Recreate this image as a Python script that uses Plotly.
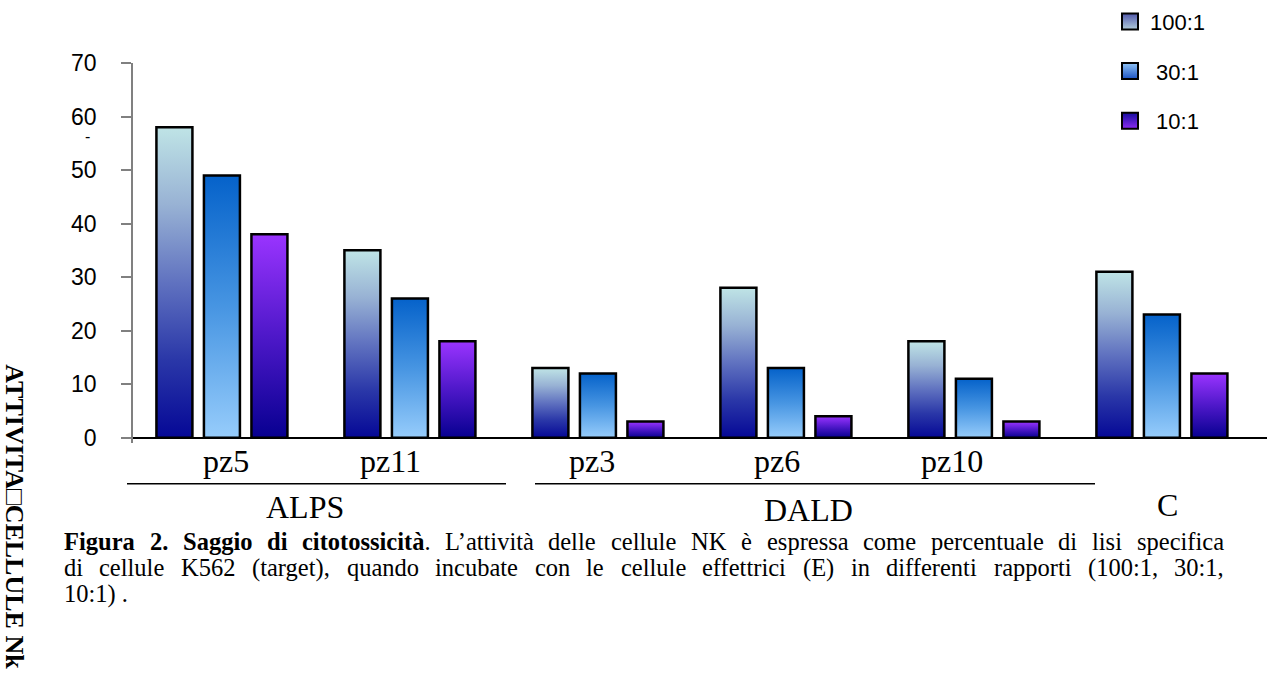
import plotly.graph_objects as go

categories = ["pz5", "pz11", "pz3", "pz6", "pz10", "C"]
series_names = ["100:1", "30:1", "10:1"]
legend_labels = ["100:1", " 30:1", " 10:1"]
values_100 = [58, 35, 13, 28, 18, 31]
values_30 = [49, 26, 12, 13, 11, 23]
values_10 = [38, 18, 3, 4, 3, 12]
y_ticks = [0, 10, 20, 30, 40, 50, 60, 70]
groups = ["ALPS", "DALD", "C"]

W, H = 1267, 691
PL, PR = 133, 1267          # plot area left/right px
PT, PB = 63.3, 443.3        # plot area top/bottom px
YMIN, YMAX = -1, 70
XMIN, XMAX = -0.473, 5.559

def px(xp):
    return (xp - PL) / (PR - PL)

def py(yp):
    return (PB - yp) / (PB - PT)

scales = [
    [[0, "#050896"], [0.25, "#2A37A8"], [0.5, "#6072C0"], [0.75, "#98B2D4"], [1, "#BFE4E6"]],
    [[0, "#96CCFB"], [0.5, "#4795E2"], [1, "#0562CA"]],
    [[0, "#070090"], [0.5, "#4E18C9"], [1, "#9A34FF"]],
]
legend_top = ["#5058AA", "#90C4F6", "#140C9E"]
legend_bottom = ["#AFCAD8", "#1B52C2", "#8C2CF2"]
all_values = [values_100, values_30, values_10]
pitch = 0.2527
bw = 0.1915

fig = go.Figure()
for s, vals in enumerate(all_values):
    off = (s - 1) * pitch
    for i, v in enumerate(vals):
        x0 = i + off - bw / 2
        x1 = i + off + bw / 2
        fig.add_trace(go.Scatter(
            x=[x0, x1, x1, x0, x0], y=[0, 0, v, v, 0],
            mode="lines", fill="toself",
            fillgradient=dict(type="vertical", colorscale=scales[s]),
            line=dict(color="black", width=2.5),
            name=series_names[s], legendgroup=series_names[s],
            showlegend=False, hoverinfo="skip",
        ))
for s in range(3):
    fig.add_trace(go.Scatter(
        x=[None], y=[None], mode="markers", name=legend_labels[s],
        legendgroup=series_names[s], showlegend=True,
        marker=dict(symbol="square", size=20, color=legend_top[s],
                    gradient=dict(type="vertical", color=legend_bottom[s]),
                    line=dict(color="black", width=2)),
    ))

# ---- text metrics (Times New Roman / Liberation Serif, per 1000 em) ----
REG = {" ": 250, "(": 333, ")": 333, ",": 250, ".": 250, ":": 278, "’": 333,
       "A": 722, "C": 667, "E": 611, "K": 722, "N": 722,
       "a": 444, "b": 500, "c": 444, "d": 500, "e": 444, "f": 333, "g": 500, "h": 500,
       "i": 278, "l": 278, "m": 778, "n": 500, "o": 500, "p": 500, "q": 500, "r": 333,
       "s": 389, "t": 278, "u": 500, "v": 500, "à": 444, "è": 444}
BOLD = {" ": 250, ".": 250, "2": 500, "F": 611, "S": 556, "a": 500, "c": 444, "d": 556,
        "g": 500, "i": 278, "o": 500, "r": 444, "s": 389, "t": 333, "u": 556, "à": 500}

def tw(text, size, bold=False):
    tab = BOLD if bold else REG
    return sum(tab.get(ch, 500) for ch in text) * size / 1000.0

CAP = 24.5
serif = "Liberation Serif, Times New Roman, serif"
sans = "Liberation Sans, Arial, sans-serif"
ann = []

def justify(words, y_px, left=62, right=1222):
    widths = [tw(t, CAP, b) + tw(t2, CAP, False) for (t, b, t2) in words]
    gap = (right - left - sum(widths)) / (len(words) - 1)
    x = left
    for (t, b, t2), w in zip(words, widths):
        txt = ("<b>%s</b>" % t if b else t) + t2
        ann.append(dict(x=px(x), y=py(y_px), xref="paper", yref="paper", text=txt,
                        xanchor="left", yanchor="middle", showarrow=False,
                        font=dict(family=serif, size=CAP, color="black")))
        x += w + gap

line1 = [("Figura", True, ""), ("2.", True, ""), ("Saggio", True, ""), ("di", True, ""),
         ("citotossicità", True, "."), ("L’attività", False, ""), ("delle", False, ""),
         ("cellule", False, ""), ("NK", False, ""), ("è", False, ""), ("espressa", False, ""),
         ("come", False, ""), ("percentuale", False, ""), ("di", False, ""),
         ("lisi", False, ""), ("specifica", False, "")]
line2 = [(w, False, "") for w in
         "di cellule K562 (target), quando incubate con le cellule effettrici (E) in differenti rapporti (100:1, 30:1,".split(" ")]
justify(line1, 542)
justify(line2, 568)
ann.append(dict(x=px(62), y=py(594), xref="paper", yref="paper", text="10:1) .",
                xanchor="left", yanchor="middle", showarrow=False,
                font=dict(family=serif, size=CAP, color="black")))

label_px = [226, 390, 592, 777, 952]
for i, c in enumerate(categories[:5]):
    ann.append(dict(x=px(label_px[i]), y=py(461), xref="paper", yref="paper",
                    text=c, xanchor="center", yanchor="middle", showarrow=False,
                    font=dict(family=serif, size=32, color="black")))
group_pos = [(305, 507), (808, 510), (1167, 505)]
for g, (gx, gy) in zip(groups, group_pos):
    ann.append(dict(x=px(gx), y=py(gy), xref="paper", yref="paper", text=g,
                    xanchor="center", yanchor="middle", showarrow=False,
                    font=dict(family=serif, size=32, color="black")))

ann.append(dict(x=px(15), y=py(362), xref="paper", yref="paper",
                text="<b>ATTIVITA□CELLULE Nk</b>", textangle=90,
                xanchor="center", yanchor="top", showarrow=False,
                font=dict(family=serif, size=26, color="black")))
ann.append(dict(x=px(87), y=py(137), xref="paper", yref="paper", text="-",
                xanchor="center", yanchor="middle", showarrow=False,
                font=dict(family=sans, size=16, color="black")))

shapes = [
    dict(type="line", xref="paper", yref="paper", x0=px(127), x1=px(506), y0=py(484), y1=py(484),
         line=dict(color="black", width=1.5)),
    dict(type="line", xref="paper", yref="paper", x0=px(535), x1=px(1095), y0=py(484), y1=py(484),
         line=dict(color="black", width=1.5)),
]

fig.update_layout(
    width=W, height=H, autosize=False,
    margin=dict(l=PL, r=W - PR, t=PT, b=H - PB, pad=0),
    paper_bgcolor="white", plot_bgcolor="white",
    showlegend=True,
    legend=dict(x=px(1110), y=py(1), xanchor="left", yanchor="top",
                font=dict(family=sans, size=22, color="black"),
                tracegroupgap=18, itemwidth=30, bgcolor="rgba(0,0,0,0)"),
    xaxis=dict(range=[XMIN, XMAX], showgrid=False, zeroline=False, showline=False,
               showticklabels=False, ticks=""),
    yaxis=dict(range=[YMIN, YMAX], tickvals=y_ticks, showgrid=False,
               zeroline=True, zerolinecolor="black", zerolinewidth=1.5,
               showline=True, linecolor="#808080", linewidth=1.5,
               ticks="outside", ticklen=10, tickcolor="#808080", tickwidth=1.5,
               ticklabelstandoff=20,
               tickfont=dict(family=sans, size=23, color="black")),
    annotations=ann, shapes=shapes,
)
fig.write_html("out.html")
